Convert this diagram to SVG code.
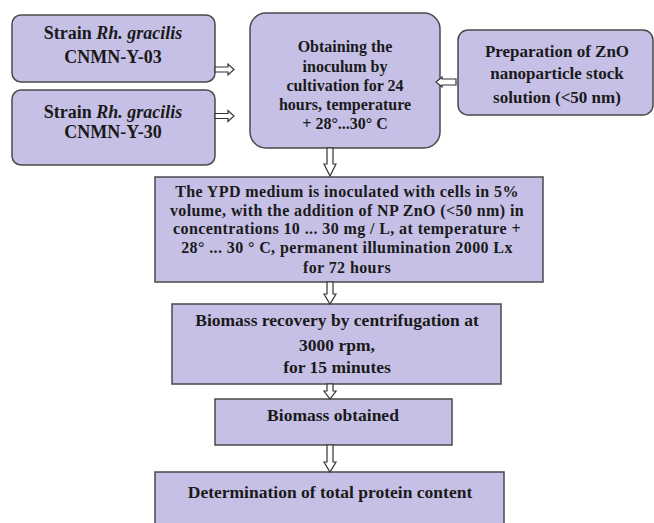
<svg xmlns="http://www.w3.org/2000/svg" width="654" height="523" viewBox="0 0 654 523">
<style>
.box{fill:#c6c0e6;stroke:#4a4a4a;stroke-width:1.5}
.t{font-family:"Liberation Serif","Times New Roman",serif;font-weight:bold;font-size:17.5px;fill:#1a1a1a;text-anchor:middle}
.s{font-size:18px}
.m{font-size:16px}
.z{font-size:17px}
.y{font-size:16px;letter-spacing:0.4px}
.i{font-style:italic}
.arr{fill:#ffffff;stroke:#333333;stroke-width:1.2;stroke-linejoin:miter}
</style>
<rect width="654" height="523" fill="#ffffff"/>
<g id="strain03">
<rect class="box" x="12" y="15" width="203" height="67" rx="9"/>
<text class="t s" x="113" y="39">Strain <tspan class="i">Rh. gracilis</tspan></text>
<text class="t s" x="113" y="63">CNMN-Y-03</text>
</g>
<g id="strain30">
<rect class="box" x="12" y="90" width="203" height="75" rx="9"/>
<text class="t s" x="113" y="118">Strain <tspan class="i">Rh. gracilis</tspan></text>
<text class="t s" x="113" y="138">CNMN-Y-30</text>
</g>
<g id="inoculum">
<rect class="box" x="250" y="13" width="190" height="135" rx="16"/>
<text class="t m" x="345" y="52">Obtaining the</text>
<text class="t m" x="345" y="72">inoculum by</text>
<text class="t m" x="345" y="91">cultivation for 24</text>
<text class="t m" x="345" y="110">hours, temperature</text>
<text class="t m" x="345" y="129">+ 28°...30° C</text>
</g>
<g id="zno">
<rect class="box" x="458" y="30" width="195" height="85" rx="10"/>
<text class="t z" x="557" y="57">Preparation of ZnO</text>
<text class="t z" x="557" y="79">nanoparticle stock</text>
<text class="t z" x="557" y="103">solution (&lt;50 nm)</text>
</g>
<g id="ypd">
<rect class="box" x="155" y="177" width="388" height="105"/>
<text class="t y" x="347" y="197">The YPD medium is inoculated with cells in 5%</text>
<text class="t y" x="347" y="215.5">volume, with the addition of NP ZnO (&lt;50 nm) in</text>
<text class="t y" x="347" y="234">concentrations 10 ... 30 mg / L, at temperature +</text>
<text class="t y" x="347" y="252.5">28° ... 30 ° C, permanent illumination 2000 Lx</text>
<text class="t y" x="347" y="273">for 72 hours</text>
</g>
<g id="recovery">
<rect class="box" x="172" y="304" width="329" height="80"/>
<text class="t" x="337" y="326">Biomass recovery by centrifugation at</text>
<text class="t" x="337" y="351">3000 rpm,</text>
<text class="t" x="337" y="373">for 15 minutes</text>
</g>
<g id="obtained">
<rect class="box" x="215" y="399" width="237" height="46"/>
<text class="t" x="333" y="421">Biomass obtained</text>
</g>
<g id="protein">
<rect class="box" x="155" y="472" width="349" height="60"/>
<text class="t" x="330" y="498">Determination of total protein content</text>
</g>
<g id="connectors">
<path class="arr" d="M215,67 H228 V64 L234,69.5 L228,75 V72 H215 Z"/>
<path class="arr" d="M215,113.5 H228 V110.5 L234,116 L228,121.5 V118.5 H215 Z"/>
<path class="arr" d="M456,79 H442 V77 L436,82 L442,87 V85 H456 Z"/>
<path class="arr" d="M327,148 V164 H324 L330,176 L336,164 H333 V148 Z"/>
<path class="arr" d="M327,282 V294 H324 L330,304 L336,294 H333 V282 Z"/>
<path class="arr" d="M327,384 V391 H324 L330,399 L336,391 H333 V384 Z"/>
<path class="arr" d="M327,445 V462 H324 L330,472 L336,462 H333 V445 Z"/>
</g>
</svg>
